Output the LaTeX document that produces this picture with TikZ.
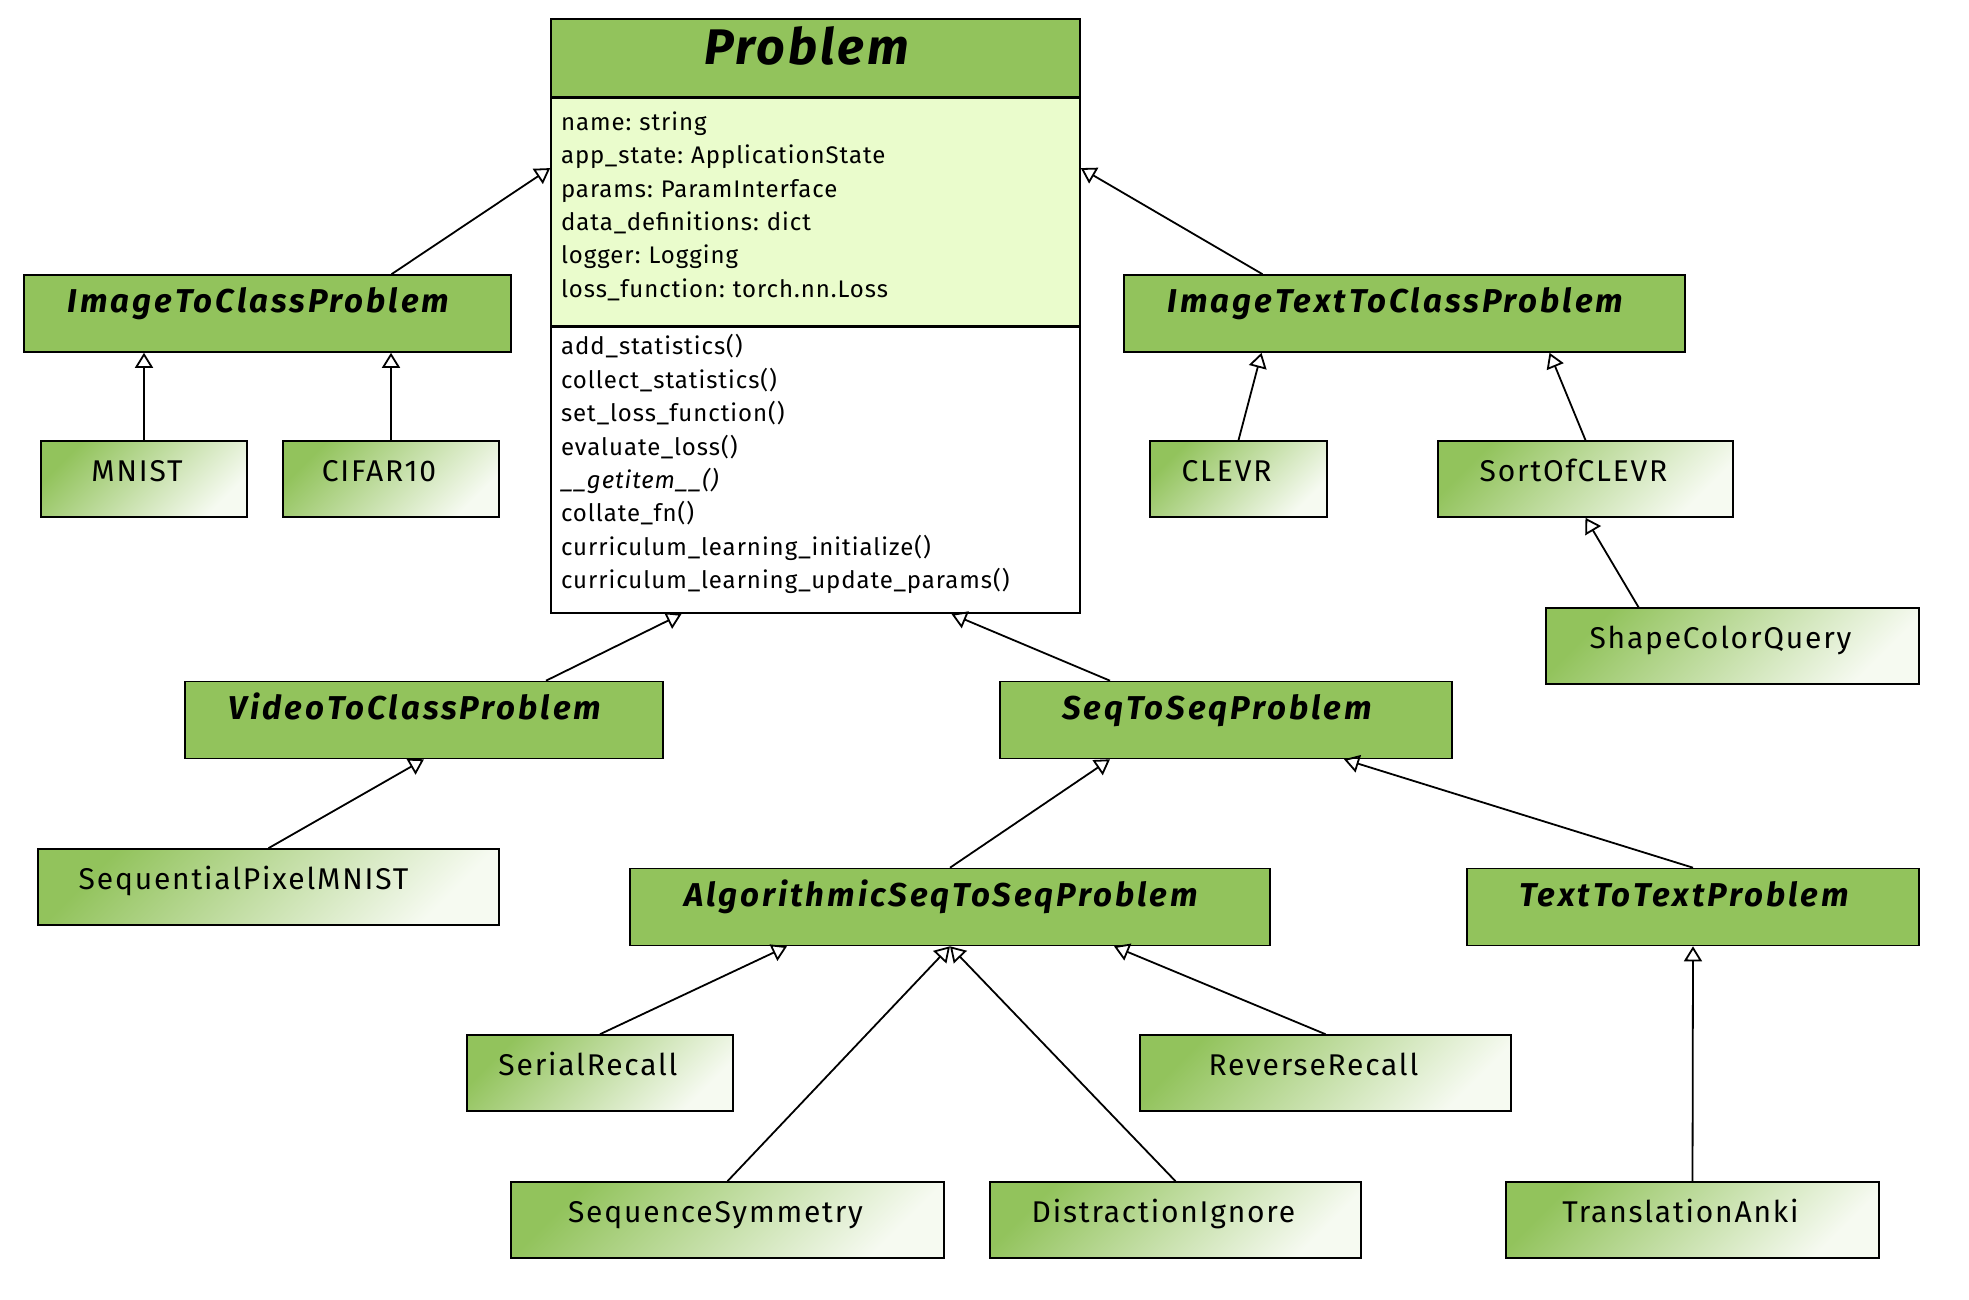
\documentclass[tikz,border=0pt]{standalone}
\usepackage{fontspec}
\setmainfont{Fira Sans}
\usepackage{tikz}
\usetikzlibrary{arrows.meta, positioning}
\frenchspacing

\definecolor{clsgreen}{RGB}{146,195,92}
\definecolor{attrgreen}{RGB}{234,252,204}
\definecolor{paleend}{RGB}{246,250,241}

\begin{document}
\begin{tikzpicture}[
  x=0.5pt, y=-0.5pt,
  boxw/.style={minimum width=#1*0.5pt},
  pad/.store in=\clspad,
  abscls/.style={rectangle, draw, line width=0.8pt, fill=clsgreen, inner xsep=4pt, inner ysep=0pt,
    pad=9pt, execute at end node={\hspace{\clspad}},
    text height=19pt, text depth=19.5pt,
    font=\fontsize{16.5}{19}\selectfont\bfseries\itshape\addfontfeature{LetterSpace=9}},
  leaf/.style={rectangle, draw, line width=0.8pt, top color=clsgreen, bottom color=paleend, shading angle=45,
    inner xsep=4pt, inner ysep=0pt, pad=12pt, execute at end node={\hspace{\clspad}},
    text height=20pt, text depth=18pt,
    font=\fontsize{15}{18}\selectfont\addfontfeature{LetterSpace=6}},
  members/.style={rectangle, draw, line width=0.8pt, text width=254.5pt, inner xsep=5pt, align=left,
    execute at end node={\endgraf\vspace{6pt}},
    font=\fontsize{12}{16.7}\selectfont\addfontfeature{LetterSpace=4}},
  inherit/.style={-{Triangle[open, length=7.5pt, width=9pt]}, line width=0.9pt}
]
\useasboundingbox (0,0) rectangle (1969,1300);

% base class
\node (problemhead) [abscls, boxw=529, text height=22.7pt, text depth=16.3pt,
  font=\fontsize{25}{30}\selectfont\bfseries\itshape\addfontfeature{LetterSpace=6}] at (815.5,58) {Problem};
\node (problemattr) [members, fill=attrgreen, minimum height=113.5pt, below=0pt of problemhead]
  {name: string\\ app\_state: ApplicationState\\ params: ParamInterface\\
   data\_definitions: dict\\ logger: Logging\\ loss\_function: torch.nn.Loss};
\node (problemops) [members, fill=white, minimum height=143pt, below=0pt of problemattr]
  {add\_statistics()\\ collect\_statistics()\\ set\_loss\_function()\\ evaluate\_loss()\\
   \textit{\_\_getitem\_\_()}\\ collate\_fn()\\ curriculum\_learning\_initialize()\\
   curriculum\_learning\_update\_params()};

% abstract problems
\node (imgcls) [abscls, boxw=487] at (267.5,313.5) {ImageToClassProblem};
\node (imgtxtcls) [abscls, boxw=561] at (1404.5,313.5) {ImageTextToClassProblem};
\node (videocls) [abscls, boxw=478] at (424,720) {VideoToClassProblem};
\node (seq2seq) [abscls, boxw=452] at (1226,720) {SeqToSeqProblem};
\node (algoseq) [abscls, boxw=640] at (950,907) {AlgorithmicSeqToSeqProblem};
\node (txt2txt) [abscls, boxw=452] at (1693,907) {TextToTextProblem};

% concrete problems
\node (mnist) [leaf, boxw=206, pad=7pt] at (144,479) {MNIST};
\node (cifar) [leaf, boxw=216] at (391,479) {CIFAR10};
\node (clevr) [leaf, boxw=177] at (1238.5,479) {CLEVR};
\node (sortofclevr) [leaf, boxw=295] at (1585.5,479) {SortOfCLEVR};
\node (shapecolor) [leaf, boxw=373] at (1732.5,646) {ShapeColorQuery};
\node (seqpixmnist) [leaf, boxw=461, pad=25pt] at (268.5,887) {SequentialPixelMNIST};
\node (serialrecall) [leaf, boxw=266] at (600,1073) {SerialRecall};
\node (reverserecall) [leaf, boxw=371] at (1325.5,1073) {ReverseRecall};
\node (seqsym) [leaf, boxw=433] at (727.5,1220) {SequenceSymmetry};
\node (distraction) [leaf, boxw=371] at (1175.5,1220) {DistractionIgnore};
\node (translation) [leaf, boxw=373] at (1692.5,1220) {TranslationAnki};

% inheritance
\draw [inherit] ([xshift=62pt]imgcls.north) -- ([yshift=22pt]problemattr.west);
\draw [inherit] ([xshift=-71pt]imgtxtcls.north) -- ([yshift=22pt]problemattr.east);
\draw [inherit] ([xshift=61pt]videocls.north) -- ([xshift=-67pt]problemops.south);
\draw [inherit] ([xshift=-58pt]seq2seq.north) -- ([xshift=68pt]problemops.south);
\draw [inherit] (mnist.north) -- (mnist |- imgcls.south);
\draw [inherit] (cifar.north) -- (cifar |- imgcls.south);
\draw [inherit] (clevr.north) -- ([xshift=-71.5pt]imgtxtcls.south);
\draw [inherit] (sortofclevr.north) -- ([xshift=72.5pt]imgtxtcls.south);
\draw [inherit] ([xshift=-47pt]shapecolor.north) -- (sortofclevr.south);
\draw [inherit] (seqpixmnist.north) -- (videocls.south);
\draw [inherit] (algoseq.north) -- ([xshift=-58pt]seq2seq.south);
\draw [inherit] (txt2txt.north) -- ([xshift=59pt]seq2seq.south);
\draw [inherit] (serialrecall.north) -- ([xshift=-81.5pt]algoseq.south);
\draw [inherit] (seqsym.north) -- (algoseq.south);
\draw [inherit] (distraction.north) -- (algoseq.south);
\draw [inherit] (reverserecall.north) -- ([xshift=82pt]algoseq.south);
\draw [inherit] (translation.north) -- (txt2txt.south);

\end{tikzpicture}
\end{document}
